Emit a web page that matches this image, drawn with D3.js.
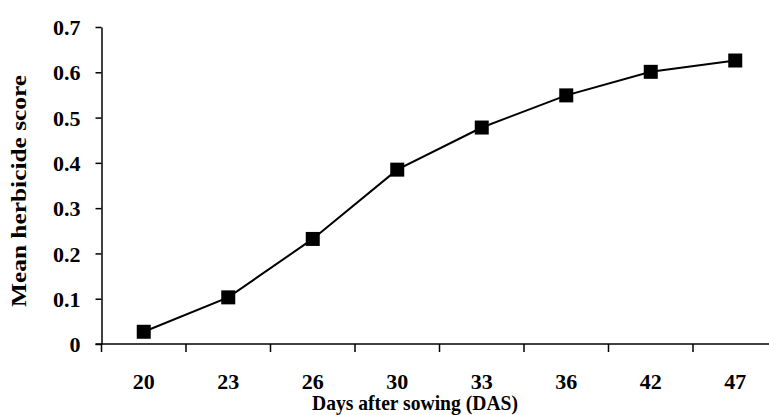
<!DOCTYPE html>
<html><head><meta charset="utf-8">
<script src="https://cdn.jsdelivr.net/npm/d3@7"></script>
<style>
html,body{margin:0;padding:0;background:#fff;}
svg{display:block;}
text{font-family:"Liberation Serif","Times New Roman",serif;font-weight:bold;fill:#000;}
</style></head>
<body>
<svg id="c" width="769" height="415"></svg>
<script>
const categories = ["20","23","26","30","33","36","42","47"];
const values = [0.027, 0.103, 0.232, 0.385, 0.478, 0.549, 0.601, 0.626];
const yTicks = [0, 0.1, 0.2, 0.3, 0.4, 0.5, 0.6, 0.7];
const yTitle = "Mean herbicide score";
const xTitle = "Days after sowing (DAS)";

const svg = d3.select("#c");
const x0 = 101.5, x1 = 777.5, yTop = 27, yBot = 344;
const x = d3.scaleBand().domain(categories).range([x0, x1]);
const y = d3.scaleLinear().domain([0, 0.7]).range([yBot, yTop]);

// Y axis
const yAxis = svg.append("g").attr("transform", `translate(${x0},0)`)
  .call(d3.axisLeft(y).tickValues(yTicks).tickSize(6).tickSizeOuter(0)
    .tickFormat(d => d === 0 ? "0" : d3.format(".1f")(d)));
yAxis.select(".domain").attr("stroke", "#000").attr("stroke-width", 1.5);
yAxis.selectAll(".tick line").attr("stroke", "#000").attr("stroke-width", 1.5);
yAxis.selectAll(".tick text").attr("x", -21).attr("dy", "0.35em")
  .style("font-size", "22px");

// X axis
const xAxis = svg.append("g").attr("transform", `translate(0,${yBot})`)
  .call(d3.axisBottom(x).tickSize(0).tickSizeOuter(0));
xAxis.select(".domain").attr("stroke", "#000").attr("stroke-width", 1.5)
  .attr("d", `M${x0 - 6},0H${x1}`);
xAxis.selectAll(".tick text").attr("y", 45).attr("dy", 0).style("font-size", "22px");
// boundary ticks
const bounds = categories.map(c => x(c)).concat([x1]);
xAxis.selectAll("line.bt").data(bounds).enter().append("line").attr("class","bt")
  .attr("x1", d => d).attr("x2", d => d).attr("y1", 0).attr("y2", 8)
  .attr("stroke", "#000").attr("stroke-width", 1.5);

// Line
const line = d3.line().x((d, i) => x(categories[i]) + x.bandwidth() / 2).y(d => y(d));
svg.append("path").datum(values).attr("d", line)
  .attr("fill", "none").attr("stroke", "#000").attr("stroke-width", 2);

// Markers
const ms = 14;
svg.selectAll("rect.m").data(values).enter().append("rect").attr("class","m")
  .attr("x", (d, i) => x(categories[i]) + x.bandwidth() / 2 - ms / 2)
  .attr("y", d => y(d) - ms / 2)
  .attr("width", ms).attr("height", ms).attr("fill", "#000");

// Titles
svg.append("text").attr("transform", `translate(26,191) rotate(-90)`)
  .attr("text-anchor", "middle").style("font-size", "22px")
  .attr("textLength", 232).attr("lengthAdjust", "spacingAndGlyphs").text(yTitle);
svg.append("text").attr("x", 415).attr("y", 410).attr("text-anchor", "middle")
  .style("font-size", "22px")
  .attr("textLength", 206).attr("lengthAdjust", "spacingAndGlyphs").text(xTitle);
</script>
</body></html>
